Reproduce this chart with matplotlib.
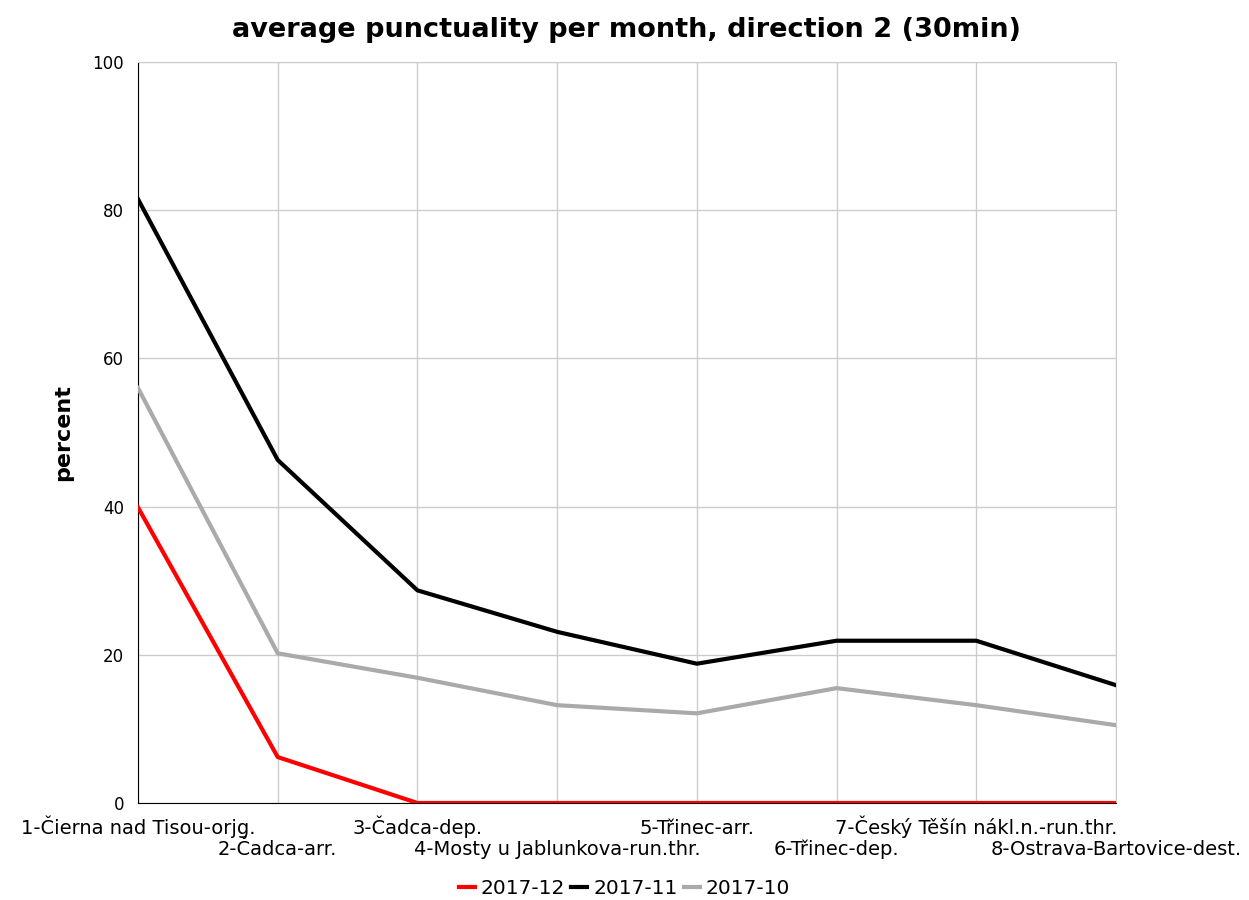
import numpy as np
import matplotlib.pyplot as plt

stations = ['1-Čierna nad Tisou-orjg.', '2-Čadca-arr.', '3-Čadca-dep.',
            '4-Mosty u Jablunkova-run.thr.', '5-Třinec-arr.', '6-Třinec-dep.',
            '7-Český Těšín nákl.n.-run.thr.', '8-Ostrava-Bartovice-dest.']

dec = [39.9, 6.2, 0, 0, 0, 0, 0, 0]
nov = [81.5, 46.3, 28.7, 23.1, 18.8, 21.9, 21.9, 15.9]
oct_ = [56.0, 20.2, 16.9, 13.2, 12.1, 15.5, 13.2, 10.5]

fig = plt.figure(figsize=(12.49, 9), dpi=100)
ax = fig.add_axes([0.1105, 0.1078, 0.783, 0.8232])

x = np.arange(len(stations))
ax.plot(x, dec, color='#ff0000', lw=3, label='2017-12', zorder=5)
ax.plot(x, nov, color='#000000', lw=3, label='2017-11', zorder=4)
ax.plot(x, oct_, color='#aaaaaa', lw=3, label='2017-10', zorder=3)

ax.set_xlim(0, len(stations) - 1)
ax.set_ylim(0, 100)
ax.set_yticks(range(0, 101, 20))
ax.set_xticks(x)
ax.set_xticklabels([])
ax.tick_params(axis='x', length=0)
ax.tick_params(axis='y', length=0, pad=10, labelsize=12)

# station names, staggered on two rows
trans = ax.get_xaxis_transform()
for i, s in enumerate(stations):
    dy = -31 if i % 2 == 0 else -52
    ax.annotate(s, xy=(i, 0), xycoords=trans, xytext=(0, dy),
                textcoords='offset pixels', ha='center', va='baseline',
                fontsize=14, annotation_clip=False)

ax.grid(True, color='#cccccc', lw=1)
ax.set_axisbelow(True)
for s in ['top', 'right']:
    ax.spines[s].set_color('#cccccc')
ax.spines['left'].set_color('black')
ax.spines['bottom'].set_color('black')

ax.set_ylabel('percent', fontsize=16, fontweight='bold', labelpad=14)
ax.set_title('average punctuality per month, direction 2 (30min)', fontsize=19.5,
             fontweight='bold', pad=18)

fig.legend(loc='center', bbox_to_anchor=(0.5, 1 - 889 / 900), ncol=3, frameon=False,
           fontsize=14.5, handlelength=0.8, handletextpad=0.3, columnspacing=0.3)

fig.savefig('out.png')
